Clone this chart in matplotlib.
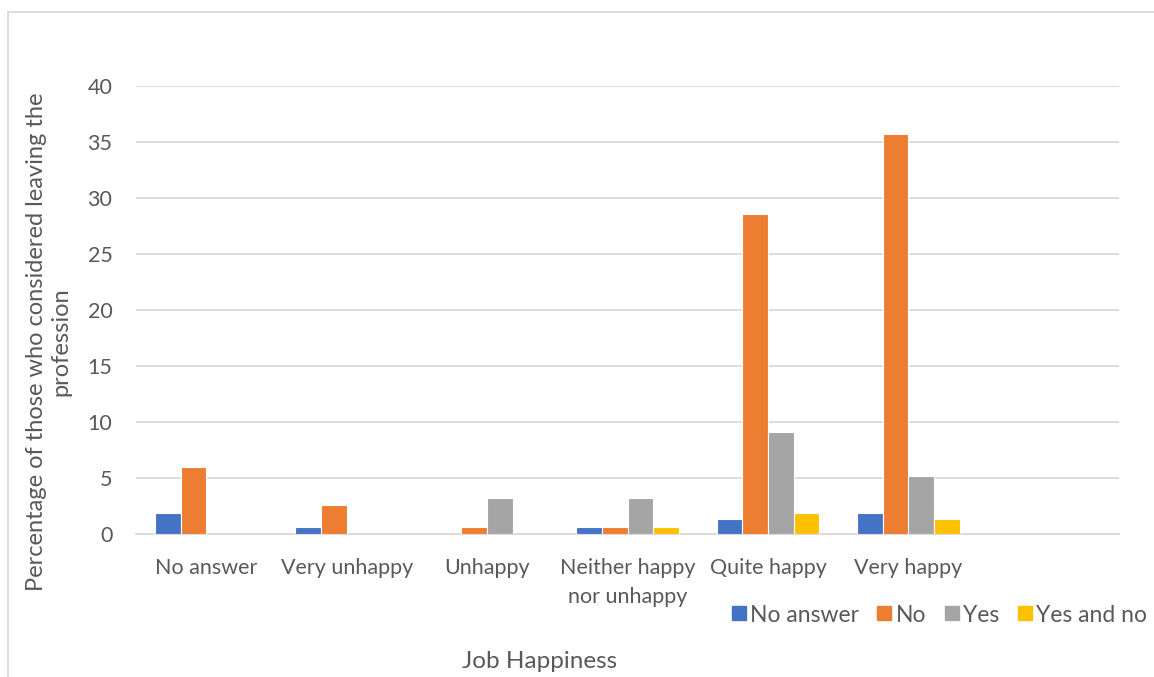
import matplotlib
matplotlib.use('Agg')
import matplotlib.pyplot as plt
import numpy as np
from matplotlib.lines import Line2D

# Job happiness survey: who considered leaving the profession, by answer
categories = ['No answer', 'Very unhappy', 'Unhappy', 'Neither happy\nnor unhappy',
              'Quite happy', 'Very happy', '']
series_names = ['No answer', 'No', 'Yes', 'Yes and no']
no_answer = [1.9, 0.6, 0.0, 0.6, 1.3, 1.9, 0.0]
no = [6.0, 2.6, 0.6, 0.6, 28.6, 35.7, 0.0]
yes = [0.0, 0.0, 3.2, 3.2, 9.1, 5.2, 0.0]
yes_and_no = [0.0, 0.0, 0.0, 0.6, 1.9, 1.3, 0.0]
colors = ['#4472C4', '#ED7D31', '#A5A5A5', '#FFC000']

TEXT = '#595959'
GRID = '#D9D9D9'
plt.rcParams['font.family'] = ['Lato', 'DejaVu Sans']

fig = plt.figure(figsize=(11.54, 6.77), dpi=100)
ax = fig.add_axes([0.1179, 0.2112, 0.9697 - 0.1179, 0.873 - 0.2112])

x = np.arange(len(categories))
pitch = 0.183
width = 0.183
for i, vals in enumerate([no_answer, no, yes, yes_and_no]):
    offs = (i - 1.5) * pitch
    ax.bar(x + offs, vals, width=width, color=colors[i], edgecolor='white',
           linewidth=0.8, zorder=3)

ax.set_xlim(-0.5, len(categories) - 0.5)
ax.set_ylim(0, 40)
ax.set_yticks(range(0, 41, 5))
ax.yaxis.grid(True, color=GRID, linewidth=1.3, zorder=0)
ax.set_xticks(x)
ax.set_xticklabels(categories, fontsize=15.5, color=TEXT, linespacing=1.6)
ax.tick_params(axis='y', labelsize=15.5, labelcolor=TEXT, length=0, pad=17)
ax.tick_params(axis='x', length=0, pad=17)
for s in ['top', 'right', 'left']:
    ax.spines[s].set_visible(False)
ax.spines['bottom'].set_color(GRID)
ax.spines['bottom'].set_linewidth(1.3)

ax.set_ylabel('Percentage of those who considered leaving the\nprofession',
              fontsize=17, color=TEXT, linespacing=1.2, va='center')
ax.yaxis.set_label_coords(-0.089, 0.43)
fig.text(540 / 1154, 1 - 662 / 677, 'Job Happiness', fontsize=17.5, color=TEXT,
         ha='center', va='center')

handles = [Line2D([0], [0], marker='s', linestyle='none', markersize=10,
                  markerfacecolor=c, markeredgecolor=c) for c in colors]
fig.legend(handles, series_names, ncol=4, loc='center right',
           bbox_to_anchor=(1147 / 1154, 1 - 615 / 677), frameon=False,
           fontsize=16.5, labelcolor=TEXT, handletextpad=0.0, columnspacing=0.6,
           handlelength=1.0, borderpad=0.0, borderaxespad=0.0)

# light frame around the chart area
fig.add_artist(Line2D([8 / 1154, 8 / 1154], [0, 1 - 12 / 677], color=GRID,
                      linewidth=1.3, transform=fig.transFigure))
fig.add_artist(Line2D([8 / 1154, 1], [1 - 12 / 677, 1 - 12 / 677], color=GRID,
                      linewidth=1.3, transform=fig.transFigure))

fig.savefig('out.png', dpi=100)
